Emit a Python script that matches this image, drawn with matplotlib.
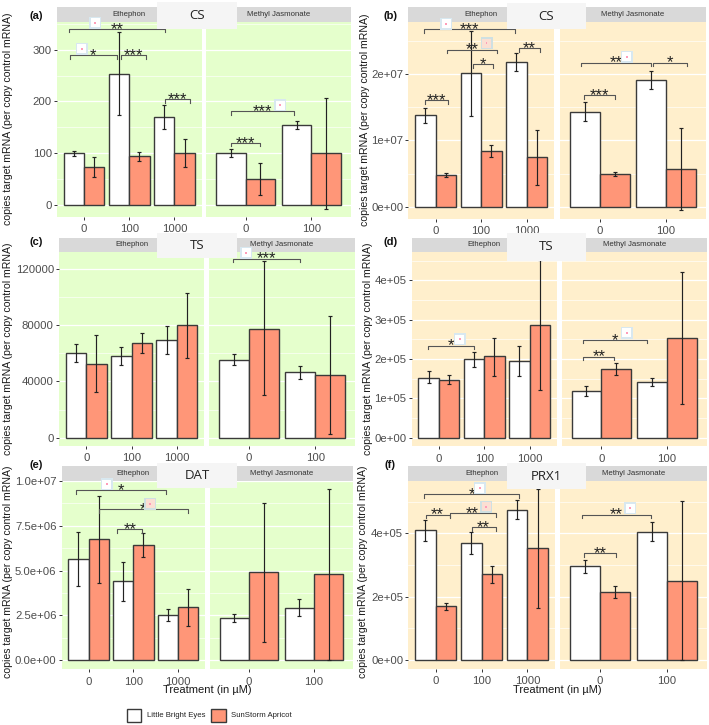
import matplotlib
matplotlib.use("Agg")
import matplotlib.pyplot as plt
from matplotlib.patches import Rectangle

W, H = 709, 725
plt.rcParams['font.family'] = ['Liberation Sans', 'DejaVu Sans']

doses_eth = ['0', '100', '1000']
doses_mj = ['0', '100']
series_names = ['Little Bright Eyes', 'SunStorm Apricot']
series_colors = ['#FFFFFF', '#FF9678']
facet_names = ['Ethephon', 'Methyl Jasmonate']

# means / error low / error high: [Little Bright Eyes, SunStorm Apricot]
a_eth_mean = [[100, 254, 170], [74, 94, 100]]
a_eth_lo = [[95, 173, 147], [55, 85, 73]]
a_eth_hi = [[104, 335, 193], [93, 103, 128]]
a_mj_mean = [[100, 155], [51, 100]]
a_mj_lo = [[92, 147], [20, -7]]
a_mj_hi = [[109, 163], [82, 206]]

b_eth_mean = [[1.38e7, 2.02e7, 2.18e7], [4.84e6, 8.4e6, 7.46e6]]
b_eth_lo = [[1.26e7, 1.37e7, 2.05e7], [4.53e6, 7.46e6, 3.27e6]]
b_eth_hi = [[1.486e7, 2.655e7, 2.317e7], [5.04e6, 9.37e6, 1.159e7]]
b_mj_mean = [[1.436e7, 1.914e7], [4.89e6, 5.64e6]]
b_mj_lo = [[1.30e7, 1.773e7], [4.63e6, -5.5e5]]
b_mj_hi = [[1.577e7, 2.055e7], [5.19e6, 1.184e7]]

c_eth_mean = [[60000, 57900, 69200], [52600, 67300, 79900]]
c_eth_lo = [[53800, 51500, 59300], [32200, 60500, 56900]]
c_eth_hi = [[66400, 64300, 79200], [73000, 74200, 102700]]
c_mj_mean = [[55500, 46500], [77500, 44600]]
c_mj_lo = [[51900, 42000], [30100, 2400]]
c_mj_hi = [[59300, 51200], [125700, 86600]]

d_eth_mean = [[1.525e5, 1.99e5, 1.958e5], [1.475e5, 2.068e5, 2.856e5]]
d_eth_lo = [[1.39e5, 1.788e5, 1.568e5], [1.364e5, 1.576e5, 1.203e5]]
d_eth_hi = [[1.686e5, 2.178e5, 2.339e5], [1.585e5, 2.542e5, 4.508e5]]
d_mj_mean = [[1.186e5, 1.424e5], [1.746e5, 2.542e5]]
d_mj_lo = [[1.05e5, 1.305e5], [1.593e5, 8.56e4]]
d_mj_hi = [[1.322e5, 1.525e5], [1.898e5, 4.22e5]]

e_eth_mean = [[5.63e6, 4.4e6, 2.53e6], [6.75e6, 6.41e6, 2.96e6]]
e_eth_lo = [[4.13e6, 3.29e6, 2.17e6], [4.33e6, 5.78e6, 1.93e6]]
e_eth_hi = [[7.14e6, 5.5e6, 2.84e6], [9.16e6, 7.08e6, 4.0e6]]
e_mj_mean = [[2.34e6, 2.94e6], [4.91e6, 4.8e6]]
e_mj_lo = [[2.12e6, 2.45e6], [1.04e6, 2e4]]
e_mj_hi = [[2.6e6, 3.4e6], [8.79e6, 9.55e6]]

f_eth_mean = [[4.09e5, 3.68e5, 4.75e5], [1.695e5, 2.705e5, 3.53e5]]
f_eth_lo = [[3.77e5, 3.34e5, 4.45e5], [1.59e5, 2.43e5, 1.65e5]]
f_eth_hi = [[4.43e5, 4.03e5, 5.04e5], [1.79e5, 2.96e5, 5.4e5]]
f_mj_mean = [[2.96e5, 4.05e5], [2.16e5, 2.49e5]]
f_mj_lo = [[2.75e5, 3.75e5], [1.96e5, 0]]
f_mj_hi = [[3.16e5, 4.37e5], [2.35e5, 5.01e5]]

# significance brackets: x start, x end, height, stars
a_eth_sig = [(-.34, 1.79, 340, '**'), (-.32, .735, 289, '*'), (.81, 1.375, 289, '***'), (1.8, 2.35, 204, '***')]
a_mj_sig = [(-.22, .22, 120, '***'), (-.22, .74, 181, '***')]
b_eth_sig = [(-.255, 1.74, 2.68e7, '***'), (.25, 1.34, 2.373e7, '**'), (.82, 1.27, 2.15e7, '*'),
             (1.83, 2.29, 2.39e7, '**'), (-.225, .27, 1.607e7, '***')]
b_mj_sig = [(-.28, .77, 2.176e7, '**'), (.81, 1.31, 2.176e7, '*'), (-.24, .23, 1.683e7, '***')]
c_eth_sig = []
c_mj_sig = [(-.236, .77, 127300, '***')]
d_eth_sig = [(-.25, .77, 2.34e5, '*')]
d_mj_sig = [(-.27, .70, 2.483e5, '*'), (-.27, .2, 2.06e5, '**')]
e_eth_sig = [(-.28, 1.726, 9.48e6, '*'), (.237, 2.21, 8.42e6, '*'), (.644, 1.2, 7.3e6, '**')]
e_mj_sig = []
f_eth_sig = [(-.25, 1.82, 5.23e5, '*'), (-.22, .3, 4.59e5, '**'), (.3, 1.31, 4.63e5, '**'), (.78, 1.31, 4.19e5, '**')]
f_mj_sig = [(-.26, .76, 4.59e5, '**'), (-.23, .24, 3.37e5, '**')]

GREEN, ORANGE = '#E5FFCC', '#FFEFCC'


def fx(x):
    return x / W


def fy(y):
    return 1 - y / H


panels = [
    dict(tag='(a)', title='CS', bg=GREEN, x1=(57, 201.5), x2=(206, 351), strip=(7, 22), bottom=217,
         y0=205, yref=(300, 49.7), ticks=[0, 100, 200, 300], labels=['0', '100', '200', '300'],
         eth=(a_eth_mean, a_eth_lo, a_eth_hi, a_eth_sig), mj=(a_mj_mean, a_mj_lo, a_mj_hi, a_mj_sig),
         tagxy=(36.5, 16), ylab=(8, 119), box=(157, 237, 2, 29),
         icons=[(95, 22.7, 0), (81.7, 48.7, 0), (280, 105, 0)]),
    dict(tag='(b)', title='CS', bg=ORANGE, x1=(408.3, 554), x2=(559.7, 706), strip=(7, 22), bottom=218.7,
         y0=206.7, yref=(2e7, 74.3), ticks=[0, 1e7, 2e7], labels=['0e+00', '1e+07', '2e+07'],
         eth=(b_eth_mean, b_eth_lo, b_eth_hi, b_eth_sig), mj=(b_mj_mean, b_mj_lo, b_mj_hi, b_mj_sig),
         tagxy=(391, 16), ylab=(365, 120), box=(506.7, 586, 3, 29),
         icons=[(446, 23.7, 0), (486.7, 43, 1), (626.7, 56.7, 0)]),
    dict(tag='(c)', title='TS', bg=GREEN, x1=(59, 204), x2=(209, 355), strip=(238, 252), bottom=446,
         y0=437.7, yref=(120000, 269), ticks=[0, 40000, 80000, 120000], labels=['0', '40000', '80000', '120000'],
         eth=(c_eth_mean, c_eth_lo, c_eth_hi, c_eth_sig), mj=(c_mj_mean, c_mj_lo, c_mj_hi, c_mj_sig),
         tagxy=(36.5, 242), ylab=(8, 349), box=(157, 237, 233, 258),
         icons=[(246, 252.7, 0)]),
    dict(tag='(d)', title='TS', bg=ORANGE, x1=(411.7, 556.7), x2=(561.7, 706.7), strip=(238, 251.7), bottom=446.3,
         y0=437.7, yref=(4e5, 280.3), ticks=[0, 1e5, 2e5, 3e5, 4e5], labels=['0e+00', '1e+05', '2e+05', '3e+05', '4e+05'],
         eth=(d_eth_mean, d_eth_lo, d_eth_hi, d_eth_sig), mj=(d_mj_mean, d_mj_lo, d_mj_hi, d_mj_sig),
         tagxy=(391, 242), ylab=(368, 349), box=(506.7, 586, 233, 260.7),
         icons=[(459.7, 339, 0), (626.7, 333, 0)]),
    dict(tag='(e)', title='DAT', bg=GREEN, x1=(61.7, 205), x2=(210, 353), strip=(466, 480.7), bottom=669.3,
         y0=660.3, yref=(1e7, 481), ticks=[0, 2.5e6, 5e6, 7.5e6, 1e7],
         labels=['0.0e+00', '2.5e+06', '5.0e+06', '7.5e+06', '1.0e+07'],
         eth=(e_eth_mean, e_eth_lo, e_eth_hi, e_eth_sig), mj=(e_mj_mean, e_mj_lo, e_mj_hi, e_mj_sig),
         tagxy=(36.5, 465), ylab=(8, 572), box=(157, 237, 463, 488),
         icons=[(106.7, 484, 0), (150, 503.7, 1)]),
    dict(tag='(f)', title='PRX1', bg=ORANGE, x1=(408.3, 555), x2=(559.7, 706.7), strip=(466, 480.7), bottom=669,
         y0=660, yref=(4e5, 533.3), ticks=[0, 2e5, 4e5], labels=['0e+00', '2e+05', '4e+05'],
         eth=(f_eth_mean, f_eth_lo, f_eth_hi, f_eth_sig), mj=(f_mj_mean, f_mj_lo, f_mj_hi, f_mj_sig),
         tagxy=(390, 465), ylab=(363, 572), box=(506.7, 586, 463, 489),
         icons=[(480, 488, 0), (486, 506.7, 1), (630, 508, 0)]),
]

fig = plt.figure(figsize=(W / 100, H / 100), dpi=100, facecolor='white')
TICKC, EDGE = '#4D4D4D', '#3A3A3A'


def draw_facet(p, xr, data, cats, name, first):
    left, right = xr
    top, bottom = p['strip'][1], p['bottom']
    ax = fig.add_axes([fx(left), fy(bottom), (right - left) / W, (bottom - top) / H])
    ax.set_facecolor(p['bg'])
    for s in ax.spines.values():
        s.set_visible(False)
    upp = p['yref'][0] / (p['y0'] - p['yref'][1])
    ylim = ((p['y0'] - bottom) * upp, (p['y0'] - top) * upp)
    ax.set_ylim(ylim)
    ax.set_xlim(-0.6, len(cats) - 0.4)
    means, los, his, sigs = data
    for k in range(2):
        off = -0.225 if k == 0 else 0.225
        xs = [i + off for i in range(len(cats))]
        ax.bar(xs, means[k], width=0.45, color=series_colors[k], edgecolor=EDGE, linewidth=1.0, zorder=3)
        yerr = [[m - l for m, l in zip(means[k], los[k])], [h - m for m, h in zip(means[k], his[k])]]
        ax.errorbar(xs, means[k], yerr=yerr, fmt='none', ecolor='#222222', elinewidth=0.85,
                    capsize=1.6, capthick=0.85, zorder=4)
    tip = 3.3 * upp
    for x1, x2, y, lab in sigs:
        ax.plot([x1, x1, x2, x2], [y - tip, y, y, y - tip], color='#555555', lw=0.8, zorder=5, clip_on=False)
        ax.text((x1 + x2) / 2, y - 0.1 * tip, lab, ha='center', va='center', fontsize=12,
                color='#222222', zorder=6, clip_on=False)
    ax.set_xticks(range(len(cats)))
    ax.set_xticklabels(cats)
    ax.set_yticks(p['ticks'])
    step = p['ticks'][1] - p['ticks'][0]
    minors = [t + step / 2 for t in p['ticks'] if ylim[0] < t + step / 2 < ylim[1]]
    ax.set_yticks(minors, minor=True)
    ax.tick_params(axis='y', which='minor', length=0)
    ax.grid(True, which='major', axis='y', color='white', lw=0.9, zorder=0)
    ax.grid(True, which='minor', axis='y', color='white', lw=0.45, zorder=0)
    ax.set_axisbelow(True)
    ax.tick_params(axis='x', length=2.2, width=0.7, color='#333333', labelsize=8.2, labelcolor=TICKC, pad=3)
    if first:
        ax.set_yticklabels(p['labels'])
        ax.tick_params(axis='y', which='major', length=2.2, width=0.7, color='#333333',
                       labelsize=8.2, labelcolor=TICKC, pad=1.5)
    else:
        ax.tick_params(axis='y', which='major', length=0, labelleft=False)
    # strip
    fig.add_artist(Rectangle((fx(left), fy(p['strip'][1])), (right - left) / W,
                             (p['strip'][1] - p['strip'][0]) / H, transform=fig.transFigure,
                             facecolor='#D9D9D9', edgecolor='none', zorder=2))
    fig.text(fx((left + right) / 2), fy((p['strip'][0] + p['strip'][1]) / 2), name, ha='center', va='center',
             fontsize=5.6, color='#333333', zorder=3)


def icon(x, y, kind):
    col = '#D8E8F0' if kind == 0 else '#CFE0E2'
    inner = '#FFFFFF' if kind == 0 else '#FBDFD3'
    fig.add_artist(Rectangle((fx(x - 6), fy(y + 6)), 12 / W, 12 / H, transform=fig.transFigure,
                             facecolor=col, edgecolor='none', zorder=7))
    fig.add_artist(Rectangle((fx(x - 4.5), fy(y + 4.5)), 9 / W, 9 / H, transform=fig.transFigure,
                             facecolor=inner, edgecolor='none', zorder=8))
    fig.add_artist(Rectangle((fx(x - 0.8), fy(y + 0.8)), 1.6 / W, 1.6 / H, transform=fig.transFigure,
                             facecolor='#FF9DB8', edgecolor='none', zorder=9))


for p in panels:
    draw_facet(p, p['x1'], p['eth'], doses_eth, facet_names[0], True)
    draw_facet(p, p['x2'], p['mj'], doses_mj, facet_names[1], False)
    bx = p['box']
    fig.add_artist(Rectangle((fx(bx[0]), fy(bx[3])), (bx[1] - bx[0]) / W, (bx[3] - bx[2]) / H,
                             transform=fig.transFigure, facecolor='#F5F5F5', edgecolor='none', zorder=6))
    fig.text(fx((bx[0] + bx[1]) / 2), fy((bx[2] + bx[3]) / 2), p['title'], ha='center', va='center',
             fontsize=9.5, color='#222222', family=['Open Sans', 'DejaVu Sans'], zorder=7)
    fig.text(fx(p['tagxy'][0]), fy(p['tagxy'][1]), p['tag'], ha='center', va='center', fontsize=8,
             fontweight='bold', color='#111111', zorder=7)
    fig.text(fx(p['ylab'][0]), fy(p['ylab'][1]), 'copies target mRNA (per copy control mRNA)', rotation=90,
             ha='center', va='center', fontsize=7.55, color='#1A1A1A', zorder=7)
    for ic in p['icons']:
        icon(*ic)

for xc in (207, 557):
    fig.text(fx(xc), fy(690), 'Treatment (in µM)', ha='center', va='center', fontsize=8.0, color='#1A1A1A')

for x0, name, col, tx in [(126.7, series_names[0], series_colors[0], 146.7), (211, series_names[1], series_colors[1], 231)]:
    fig.add_artist(Rectangle((fx(x0), fy(722)), 14.6 / W, 13 / H, transform=fig.transFigure,
                             facecolor=col, edgecolor=EDGE, lw=1.0))
    fig.text(fx(tx), fy(715.7), name, ha='left', va='center', fontsize=5.6, color='#222222')

fig.savefig('out.png', dpi=100)
